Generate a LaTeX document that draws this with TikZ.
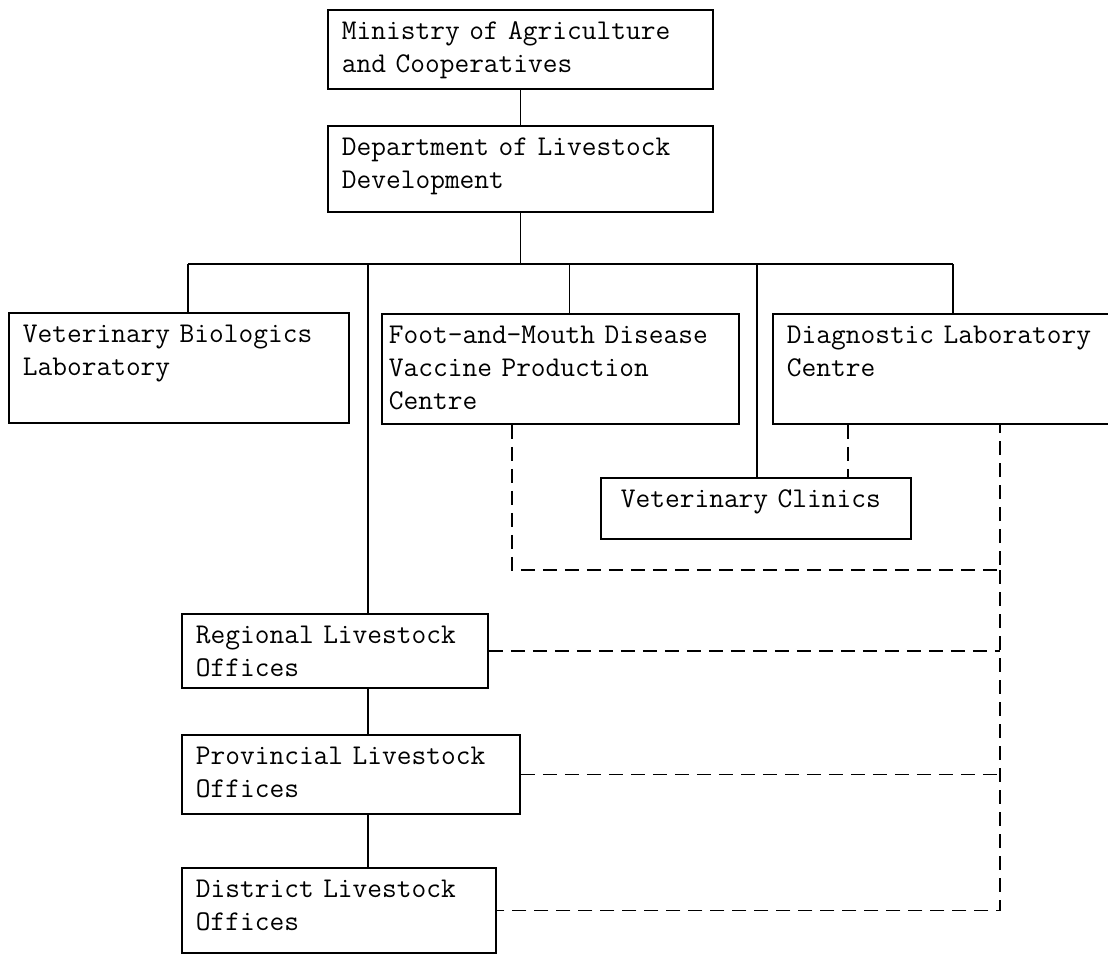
\documentclass[tikz,border=0pt]{standalone}
\usepackage{fontspec}
\usetikzlibrary{positioning,calc}

\begin{document}
\begin{tikzpicture}
  [
    x=0.5pt,
    y=-0.5pt,
    line width=0.9pt,
    office/.style={draw, rectangle, anchor=north west, align=left, inner xsep=7pt, inner ysep=5pt, text height=10pt, font=\ttfamily\fontsize{14.3}{16.5}\selectfont},
    link/.style={dash pattern=on 7pt off 4pt},
  ]
  \useasboundingbox (0,0) rectangle (1108,954);
  \node [office, text width=178.5pt, text depth=19.5pt] (ministry) at (327,9) {Ministry of Agriculture\\and Cooperatives};
  \node [office, text width=178.5pt, text depth=23pt] (dept) at (327,125) {Department of Livestock\\Development};
  \node [office, text width=156pt, text depth=35pt] (vbl) at (8,312) {Veterinary Biologics\\Laboratory};
  \node [office, inner xsep=3.5pt, text width=171.5pt, text depth=35pt] (fmd) at (381,313) {Foot-and-Mouth~Disease\\Vaccine Production\\Centre};
  \node [office, text width=164pt, text depth=35pt] (diag) at (772,313) {Diagnostic~Laboratory\\Centre};
  \node [office, inner xsep=10pt, text width=135pt, text depth=10.5pt] (clinics) at (600,477) {Veterinary~Clinics};
  \node [office, text width=139pt, text depth=17pt] (regional) at (181,613) {Regional Livestock\\Offices};
  \node [office, text width=155pt, text depth=19.5pt] (provincial) at (181,734) {Provincial Livestock\\Offices};
  \node [office, text width=143pt, text depth=22.5pt] (district) at (181,867) {District Livestock\\Offices};

  % branch points
  \coordinate (busL) at (188,264);
  \coordinate (busR) at (953,264);
  \coordinate (tapA) at (368,264);
  \coordinate (tapB) at (757,264);
  \coordinate (rail) at (1000,570);

  \draw (ministry.south) -- (dept.north);
  \draw (dept.south) -- (dept.south |- busL);
  \draw (busL) -- (busR);
  \draw (busL) -- (busL |- vbl.north);
  \draw ([xshift=4.5pt]fmd.north) -- ([xshift=4.5pt]fmd.north |- busL);
  \draw (busR) -- (busR |- diag.north);
  \draw (tapA) -- (tapA |- regional.north);
  \draw (tapB) -- (tapB |- clinics.north);
  \draw (regional.south -| tapA) -- (provincial.north -| tapA);
  \draw (provincial.south -| tapA) -- (district.north -| tapA);

  \draw [link] ([xshift=38pt]diag.south west) -- ([xshift=38pt]diag.south west |- clinics.north);
  \draw [link] ([xshift=65.5pt]fmd.south west) |- (rail) -- (rail |- diag.south);
  \draw [link] (rail) -- (rail |- district.east) -- (district.east);
  \draw [link] (regional.east) -- (regional.east -| rail);
  \draw [link] (provincial.east) -- (provincial.east -| rail);
\end{tikzpicture}
\end{document}
